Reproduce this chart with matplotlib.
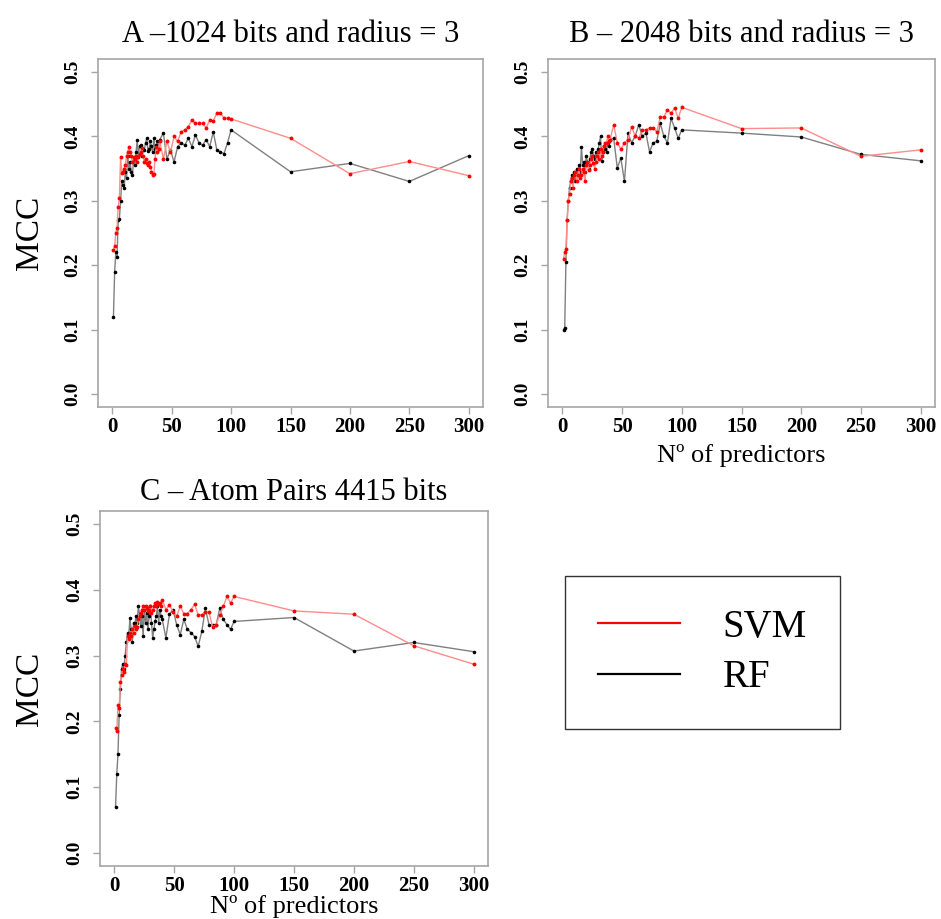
import matplotlib
matplotlib.use('Agg')
import matplotlib.pyplot as plt
from matplotlib.lines import Line2D

plt.rcParams['font.family'] = ['Liberation Serif', 'DejaVu Serif']

# Number of predictors (shared by all panels)
n_pred = list(range(1, 41)) + list(range(43, 101, 3)) + [150, 200, 250, 300]

# Panel A - 1024 bits, radius 3
svm_a = [0.223, 0.230, 0.250, 0.258, 0.290, 0.304, 0.368, 0.343, 0.345, 0.350,
         0.355, 0.370, 0.375, 0.384, 0.375, 0.370, 0.360, 0.368, 0.365, 0.370,
         0.360, 0.368, 0.372, 0.375, 0.382, 0.370, 0.360, 0.365, 0.358, 0.355,
         0.360, 0.353, 0.345, 0.340, 0.342, 0.365, 0.384, 0.375, 0.380, 0.392,
         0.365, 0.392, 0.375, 0.400, 0.392, 0.407, 0.410, 0.415, 0.425, 0.420,
         0.420, 0.420, 0.413, 0.425, 0.424, 0.436, 0.436, 0.428, 0.428, 0.427,
         0.397, 0.342, 0.361, 0.339]
rf_a = [0.120, 0.190, 0.220, 0.213, 0.270, 0.272, 0.300, 0.330, 0.325, 0.320,
        0.345, 0.335, 0.370, 0.350, 0.360, 0.345, 0.340, 0.365, 0.355, 0.375,
        0.394, 0.370, 0.385, 0.386, 0.370, 0.380, 0.379, 0.390, 0.397, 0.378,
        0.380, 0.392, 0.385, 0.375, 0.397, 0.380, 0.386, 0.392, 0.380, 0.395,
        0.405, 0.365, 0.379, 0.360, 0.384, 0.390, 0.386, 0.397, 0.384, 0.402,
        0.390, 0.386, 0.395, 0.384, 0.407, 0.379, 0.376, 0.373, 0.390, 0.410,
        0.345, 0.358, 0.330, 0.370]

# Panel B - 2048 bits, radius 3
svm_b = [0.210, 0.220, 0.225, 0.270, 0.300, 0.310, 0.330, 0.335, 0.320, 0.340,
         0.345, 0.330, 0.340, 0.350, 0.335, 0.340, 0.350, 0.345, 0.330, 0.355,
         0.360, 0.348, 0.355, 0.365, 0.370, 0.358, 0.350, 0.360, 0.370, 0.375,
         0.365, 0.380, 0.370, 0.375, 0.385, 0.390, 0.390, 0.400, 0.392, 0.395,
         0.418, 0.390, 0.380, 0.390, 0.395, 0.415, 0.400, 0.397, 0.410, 0.410,
         0.413, 0.413, 0.407, 0.430, 0.430, 0.441, 0.436, 0.444, 0.428, 0.445,
         0.412, 0.413, 0.369, 0.379]
rf_b = [0.100, 0.103, 0.205, 0.270, 0.300, 0.320, 0.330, 0.340, 0.335, 0.345,
        0.330, 0.350, 0.340, 0.355, 0.345, 0.384, 0.356, 0.360, 0.345, 0.370,
        0.360, 0.350, 0.365, 0.375, 0.381, 0.370, 0.365, 0.375, 0.370, 0.380,
        0.390, 0.400, 0.361, 0.375, 0.385, 0.380, 0.376, 0.390, 0.385, 0.395,
        0.397, 0.351, 0.366, 0.330, 0.405, 0.390, 0.400, 0.418, 0.400, 0.405,
        0.376, 0.390, 0.392, 0.420, 0.400, 0.390, 0.428, 0.413, 0.397, 0.410,
        0.405, 0.399, 0.372, 0.362]

# Panel C - Atom Pairs 4415 bits
svm_c = [0.190, 0.185, 0.225, 0.220, 0.260, 0.270, 0.280, 0.275, 0.287, 0.285,
         0.330, 0.325, 0.335, 0.330, 0.340, 0.335, 0.345, 0.340, 0.344, 0.355,
         0.360, 0.365, 0.370, 0.375, 0.370, 0.375, 0.372, 0.368, 0.370, 0.375,
         0.365, 0.370, 0.375, 0.380, 0.375, 0.382, 0.378, 0.380, 0.375, 0.385,
         0.370, 0.377, 0.367, 0.360, 0.375, 0.364, 0.364, 0.370, 0.378, 0.362,
         0.362, 0.367, 0.366, 0.344, 0.347, 0.362, 0.375, 0.390, 0.380, 0.390,
         0.368, 0.363, 0.315, 0.287]
rf_c = [0.070, 0.120, 0.150, 0.210, 0.250, 0.280, 0.287, 0.280, 0.300, 0.320,
        0.334, 0.330, 0.357, 0.340, 0.320, 0.350, 0.345, 0.360, 0.350, 0.375,
        0.364, 0.345, 0.360, 0.330, 0.370, 0.350, 0.365, 0.340, 0.360, 0.375,
        0.350, 0.327, 0.340, 0.352, 0.360, 0.375, 0.350, 0.370, 0.360, 0.355,
        0.327, 0.363, 0.370, 0.347, 0.332, 0.355, 0.340, 0.335, 0.329, 0.314,
        0.337, 0.372, 0.347, 0.347, 0.347, 0.372, 0.355, 0.347, 0.340, 0.352,
        0.358, 0.307, 0.320, 0.306]

titles = ['A \u20131024 bits and radius = 3',
          'B \u2013 2048 bits and radius = 3',
          'C \u2013 Atom Pairs 4415 bits']
x_ticks = [0, 50, 100, 150, 200, 250, 300]
y_ticks = [0.0, 0.1, 0.2, 0.3, 0.4, 0.5]
series_labels = ['SVM', 'RF']

W, H = 941, 919
fig = plt.figure(figsize=(W / 100, H / 100), dpi=100)


def box(l, t, r, b):
    return [l / W, 1 - b / H, (r - l) / W, (b - t) / H]


axA = fig.add_axes(box(98, 59, 483, 407))
axB = fig.add_axes(box(548, 59, 935, 407))
axC = fig.add_axes(box(100, 511, 488, 866))

GRAY = '#a6a6a6'


def panel(ax, svm, rf, title, xlabel, ylabel, title_pad, xlab_y, ylab_x):
    ax.plot(n_pred, rf, color='#808080', lw=1.0, zorder=2)
    ax.plot(n_pred, rf, 'o', color='black', ms=2.6, mew=0, zorder=3)
    ax.plot(n_pred, svm, color='#ff8c8c', lw=1.0, zorder=4)
    ax.plot(n_pred, svm, 'o', color='red', ms=2.8, mew=0, zorder=5)
    ax.set_xlim(-12, 312)
    ax.set_ylim(-0.02, 0.52)
    ax.set_xticks(x_ticks)
    ax.set_yticks(y_ticks)
    ax.set_yticklabels(['%.1f' % v for v in y_ticks])
    for s in ax.spines.values():
        s.set_color(GRAY)
        s.set_linewidth(1.2)
    ax.tick_params(axis='both', colors=GRAY, length=5, width=1.0,
                   labelcolor='black')
    ax.tick_params(axis='x', labelsize=15, pad=2)
    ax.tick_params(axis='y', labelsize=14, pad=7, labelrotation=90)
    for lab in ax.get_xticklabels() + ax.get_yticklabels():
        lab.set_fontweight('bold')
    for lab in ax.get_yticklabels():
        lab.set_verticalalignment('center')
    ax.set_title(title, fontsize=22, pad=title_pad)
    if ylabel:
        ax.set_ylabel(ylabel, fontsize=24)
        ax.yaxis.set_label_coords(ylab_x, 0.5)
    if xlabel:
        ax.set_xlabel(xlabel, fontsize=19)
        ax.xaxis.set_label_coords(0.5, xlab_y)


panel(axA, svm_a, rf_a, titles[0], None, 'MCC', 12, None, -0.138)
panel(axB, svm_b, rf_b, titles[1], 'N\u00ba of predictors', None, 12, -0.105, None)
panel(axC, svm_c, rf_c, titles[2], 'N\u00ba of predictors', 'MCC', 8, -0.083, -0.142)

handles = [Line2D([0], [0], color='red', lw=1.6),
           Line2D([0], [0], color='black', lw=1.6)]
leg = fig.legend(handles, series_labels, loc='center',
                 bbox_to_anchor=(702.5 / W, 1 - 652.5 / H),
                 fontsize=28, frameon=True, fancybox=False, edgecolor='black',
                 handlelength=2.1, handletextpad=1.1, borderpad=0.85,
                 labelspacing=0.35, borderaxespad=0)
leg.get_frame().set_linewidth(1.0)

fig.savefig('out.png', dpi=100, facecolor='white')
